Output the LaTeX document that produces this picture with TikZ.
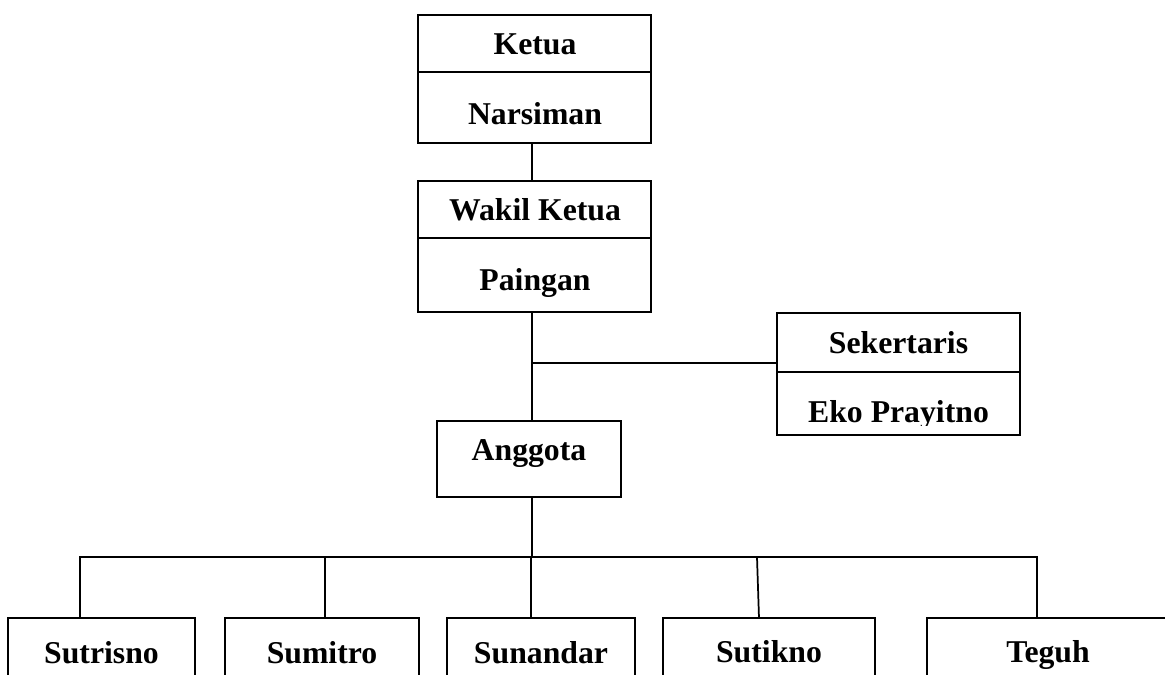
\documentclass[tikz,border=0pt]{standalone}
\usepackage{fontspec}
\setmainfont{Liberation Serif}
\usetikzlibrary{calc}
\begin{document}
\begin{tikzpicture}[x=0.75pt,y=-0.75pt,
  cell/.style 2 args={draw=black, line width=1.3pt, rectangle, inner sep=0pt, outer sep=0pt,
    minimum width={#1*0.75pt}, minimum height={#2*0.75pt}},
  txt/.style={anchor=base, inner sep=0pt, font=\fontsize{23.8pt}{28pt}\selectfont\bfseries},
  conn/.style={draw=black, line width=1.3pt}]
\clip (0,0) rectangle (1165,675);
\fill[white] (0,0) rectangle (1165,675);
% boxes
\node[cell={233}{57}] (ketua) at (534.5,43.5) {};
\node[cell={233}{71}] (narsiman) at (534.5,107.5) {};
\node[cell={233}{57}] (wakil) at (534.5,209.5) {};
\node[cell={233}{74}] (paingan) at (534.5,275) {};
\node[cell={243}{59}] (sek) at (898.5,342.5) {};
\node[cell={243}{63}] (eko) at (898.5,403.5) {};
\node[cell={184}{76}] (anggota) at (529,459) {};
\node[cell={187}{82}] (sutrisno) at (101.5,659) {};
\node[cell={194}{82}] (sumitro) at (322,659) {};
\node[cell={188}{82}] (sunandar) at (541,659) {};
\node[cell={212}{82}] (sutikno) at (769,659) {};
\node[cell={242}{82}] (teguh) at (1048,659) {};
% texts
\node[txt] (tketua) at (535,54) {Ketua};
\node[txt] (tnarsiman) at (535,124) {Narsiman};
\node[txt] (twakil) at (535,220) {Wakil Ketua};
\node[txt] (tpaingan) at (535,290) {Paingan};
\node[txt] (tsek) at (898.5,353) {Sekertaris};
\begin{scope}
\clip (777,372) rectangle (1020,425.5);
\node[txt] (teko) at (898.5,422) {Eko Prayitno};
\end{scope}
\node[txt] (tanggota) at (529,460) {Anggota};
\node[txt] (tsutrisno) at (101.5,663) {Sutrisno};
\node[txt] (tsumitro) at (322,663) {Sumitro};
\node[txt] (tsunandar) at (541,663) {Sunandar};
\node[txt] (tsutikno) at (769,662) {Sutikno};
\node[txt] (tteguh) at (1048,662) {Teguh};
% connectors
\coordinate (spine) at (532,0);
\coordinate (j) at (532,363);
\coordinate (b1) at (80,557);
\coordinate (b2) at (325,557);
\coordinate (b3) at (531,557);
\coordinate (b4) at (757,557);
\coordinate (b5) at (1037,557);
\draw[conn] (narsiman.south -| spine) -- (wakil.north -| spine);
\draw[conn] (paingan.south -| spine) -- (anggota.north -| spine);
\draw[conn] (j) -- (j -| sek.west);
\draw[conn] (anggota.south -| spine) -- (spine |- b1);
\draw[conn] (b1 |- sutrisno.north) -- (b1) -- (b5) -- (b5 |- teguh.north);
\draw[conn] (b2) -- (b2 |- sumitro.north);
\draw[conn] (b3) -- (b3 |- sunandar.north);
\draw[conn] (b4) -- ($(b4 |- sutikno.north)+(2,0)$);
\end{tikzpicture}
\end{document}
